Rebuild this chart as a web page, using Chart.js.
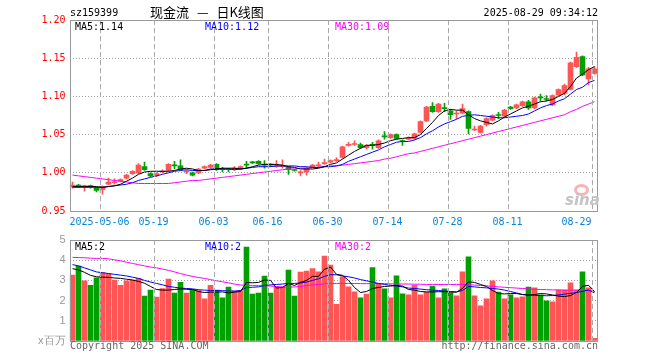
<!DOCTYPE html>
<html>
<head>
<meta charset="utf-8">
<script src="https://cdn.jsdelivr.net/npm/chart.js@4/dist/chart.umd.min.js"></script>
<style>
  body { margin: 0; background: #fff; }
  #wrap { position: relative; width: 660px; height: 360px; overflow: hidden; background: #fff; }
  canvas { position: absolute; left: 0; }
  .t { position: absolute; font: 10px "DejaVu Sans Mono", monospace; line-height: 12px; white-space: pre; }
</style>
</head>
<body>
<div id="wrap">
  <canvas id="kline" width="660" height="235" style="top:0px"></canvas>
  <canvas id="vol" width="660" height="140" style="top:220px"></canvas>

  <div class="t" style="left:70px;top:7px">sz159399</div>
  <div class="t" style="left:150px;top:4px;font:13px 'Noto Sans CJK SC',sans-serif;line-height:16px;word-spacing:5px">现金流 — 日K线图</div>
  <div class="t" style="right:62px;top:7px">2025-08-29 09:34:12</div>

  <div class="t" id="lg5" style="left:75px;top:21px;color:#000"></div>
  <div class="t" id="lg10" style="left:205px;top:21px;color:#0000ff"></div>
  <div class="t" id="lg30" style="left:335px;top:21px;color:#ff00ff"></div>

  <div style="position:absolute;left:574px;top:184px;width:9px;height:6px;border:3px solid #f6b4b4;border-radius:50%"></div>
  <div class="t" style="left:565px;top:192px;font:italic bold 15px 'DejaVu Sans',sans-serif;line-height:16px;color:#c4c4c4">sina</div>

  <div class="t" id="vlg5" style="left:75px;top:241px;color:#000"></div>
  <div class="t" id="vlg10" style="left:205px;top:241px;color:#0000ff"></div>
  <div class="t" id="vlg30" style="left:335px;top:241px;color:#ff00ff"></div>

  <div class="t" style="left:70px;top:340px;color:#666">Copyright 2025 SINA.COM</div>
  <div class="t" style="right:62px;top:340px;color:#666">http://finance.sina.com.cn</div>
</div>

<script>
// trading days shown (Apr 24 -> Aug 29, 2025)
const dates = [
  '04-24','04-25','04-28','04-29','04-30',
  '05-06','05-07','05-08','05-09','05-12','05-13','05-14','05-15','05-16',
  '05-19','05-20','05-21','05-22','05-23','05-26','05-27','05-28','05-29','05-30',
  '06-03','06-04','06-05','06-06','06-09','06-10','06-11','06-12','06-13',
  '06-16','06-17','06-18','06-19','06-20','06-23','06-24','06-25','06-26','06-27','06-30',
  '07-01','07-02','07-03','07-04','07-07','07-08','07-09','07-10','07-11',
  '07-14','07-15','07-16','07-17','07-18','07-21','07-22','07-23','07-24','07-25',
  '07-28','07-29','07-30','07-31','08-01','08-04','08-05','08-06','08-07','08-08',
  '08-11','08-12','08-13','08-14','08-15','08-18','08-19','08-20','08-21','08-22',
  '08-25','08-26','08-27','08-28','08-29'
];
const tickDates = ['05-06','05-19','06-03','06-16','06-30','07-14','07-28','08-11','08-29'];
const tickYear = '2025';

const open = [
  0.982,0.984,0.982,0.983,0.980,0.978,0.985,0.987,0.989,0.993,
  0.999,1.000,1.008,0.999,0.997,1.001,1.003,1.010,1.009,1.001,
  1.000,1.000,1.006,1.007,1.011,1.005,1.005,1.005,1.005,1.011,
  1.014,1.015,1.011,1.011,1.008,1.008,1.007,1.004,1.000,1.001,
  1.008,1.009,1.012,1.014,1.016,1.020,1.036,1.037,1.037,1.033,
  1.037,1.033,1.048,1.046,1.050,1.042,1.044,1.045,1.053,1.068,
  1.087,1.080,1.085,1.081,1.077,1.078,1.080,1.056,1.053,1.063,
  1.069,1.076,1.074,1.086,1.085,1.088,1.093,1.085,1.099,1.097,
  1.089,1.102,1.104,1.109,1.139,1.152,1.123,1.130
];
const close = [
  0.984,0.982,0.983,0.982,0.977,0.982,0.988,0.988,0.991,0.997,
  1.002,1.010,1.004,0.996,0.999,1.002,1.011,1.009,1.004,1.002,
  0.997,1.005,1.008,1.010,1.004,1.004,1.004,1.006,1.008,1.010,
  1.013,1.012,1.010,1.010,1.009,1.009,1.004,1.003,1.001,1.006,
  1.010,1.010,1.013,1.016,1.017,1.034,1.037,1.038,1.033,1.036,
  1.036,1.042,1.047,1.050,1.045,1.041,1.045,1.051,1.067,1.086,
  1.080,1.090,1.084,1.076,1.078,1.084,1.058,1.057,1.061,1.071,
  1.075,1.075,1.082,1.084,1.089,1.093,1.085,1.098,1.098,1.096,
  1.101,1.109,1.114,1.144,1.151,1.128,1.136,1.136
];
const high = [
  0.988,0.985,0.984,0.984,0.981,0.983,0.993,0.992,0.992,0.998,
  1.003,1.012,1.014,1.000,1.000,1.004,1.012,1.015,1.017,1.004,
  1.001,1.006,1.009,1.011,1.012,1.007,1.006,1.008,1.009,1.015,
  1.015,1.016,1.016,1.012,1.016,1.017,1.008,1.005,1.003,1.007,
  1.011,1.014,1.018,1.017,1.020,1.035,1.040,1.042,1.039,1.037,
  1.040,1.043,1.054,1.051,1.051,1.043,1.047,1.052,1.068,1.087,
  1.092,1.091,1.091,1.083,1.081,1.090,1.081,1.061,1.062,1.072,
  1.076,1.079,1.083,1.087,1.090,1.094,1.095,1.099,1.103,1.101,
  1.102,1.110,1.116,1.145,1.158,1.153,1.138,1.139
];
const low = [
  0.980,0.981,0.976,0.980,0.975,0.972,0.984,0.985,0.988,0.992,
  0.998,0.999,1.003,0.995,0.995,1.000,1.002,1.005,1.003,0.999,
  0.996,0.999,1.005,1.006,1.003,1.001,1.001,1.003,1.004,1.006,
  1.012,1.011,1.006,1.008,1.007,1.006,0.998,1.002,0.996,0.997,
  1.007,1.008,1.011,1.013,1.015,1.019,1.035,1.036,1.032,1.031,
  1.031,1.032,1.044,1.045,1.044,1.036,1.043,1.044,1.052,1.067,
  1.079,1.079,1.080,1.070,1.071,1.077,1.051,1.055,1.052,1.061,
  1.068,1.071,1.073,1.083,1.084,1.087,1.083,1.084,1.094,1.094,
  1.088,1.101,1.102,1.108,1.138,1.127,1.115,1.129
];

const ma5 = [
  0.982,0.982,0.982,0.982,0.982,0.981,0.982,0.983,0.985,0.989,
  0.993,0.998,1.001,1.002,1.002,1.002,1.002,1.003,1.005,1.006,
  1.005,1.003,1.003,1.004,1.005,1.006,1.006,1.006,1.005,1.006,
  1.008,1.010,1.011,1.011,1.011,1.010,1.008,1.007,1.005,1.005,
  1.005,1.006,1.008,1.011,1.013,1.018,1.023,1.028,1.032,1.036,
  1.036,1.037,1.039,1.042,1.044,1.045,1.046,1.046,1.050,1.058,
  1.066,1.075,1.081,1.083,1.082,1.082,1.076,1.071,1.068,1.066,
  1.064,1.068,1.073,1.077,1.081,1.085,1.087,1.090,1.093,1.094,
  1.096,1.100,1.104,1.113,1.124,1.129,1.135,1.139
];
const ma10 = [
  0.981,0.981,0.981,0.981,0.981,0.981,0.982,0.983,0.984,0.985,
  0.987,0.990,0.992,0.994,0.996,0.998,1.000,1.002,1.003,1.004,
  1.003,1.003,1.003,1.005,1.005,1.005,1.005,1.004,1.005,1.006,
  1.007,1.008,1.008,1.008,1.009,1.009,1.009,1.009,1.008,1.008,
  1.007,1.007,1.008,1.008,1.009,1.011,1.015,1.018,1.021,1.024,
  1.027,1.030,1.034,1.037,1.040,1.041,1.041,1.043,1.046,1.051,
  1.055,1.060,1.064,1.067,1.070,1.074,1.075,1.076,1.075,1.074,
  1.073,1.072,1.072,1.073,1.074,1.075,1.077,1.081,1.085,1.088,
  1.090,1.094,1.097,1.103,1.109,1.112,1.118,1.121
];
const ma30 = [
  0.997,0.996,0.995,0.994,0.993,0.992,0.991,0.990,0.989,0.988,
  0.987,0.986,0.986,0.986,0.986,0.986,0.986,0.987,0.988,0.989,
  0.990,0.990,0.991,0.992,0.993,0.994,0.995,0.996,0.997,0.998,
  0.999,1.000,1.001,1.002,1.003,1.004,1.005,1.005,1.006,1.006,
  1.007,1.007,1.008,1.009,1.009,1.010,1.011,1.012,1.013,1.014,
  1.015,1.016,1.018,1.019,1.021,1.023,1.025,1.026,1.028,1.030,
  1.032,1.034,1.036,1.038,1.040,1.042,1.044,1.046,1.048,1.050,
  1.052,1.054,1.056,1.058,1.060,1.062,1.064,1.066,1.068,1.070,
  1.072,1.074,1.076,1.080,1.083,1.087,1.090,1.093
];

// volume, millions
const volume = [
  3.26,3.71,2.98,2.76,3.13,3.39,3.34,3.01,2.76,2.98,
  3.01,3.10,2.22,2.52,2.17,2.60,3.06,2.37,2.91,2.37,
  2.55,2.50,2.09,2.76,2.52,2.14,2.67,2.47,2.50,4.65,
  2.32,2.37,3.21,2.37,2.68,2.68,3.51,2.22,3.41,3.46,
  3.58,3.43,4.21,3.76,1.82,3.18,2.68,2.43,2.14,2.32,
  3.63,2.85,2.58,2.14,3.23,2.33,2.28,2.76,2.28,2.42,
  2.72,2.14,2.58,2.38,2.24,3.43,4.17,2.24,1.74,2.09,
  2.98,2.42,2.09,2.28,2.14,2.19,2.67,2.63,2.28,1.99,
  1.94,2.52,2.52,2.88,2.52,3.43,2.63,0.13
];
const volMa5 = [
  3.58,3.52,3.40,3.25,3.18,3.16,3.15,3.12,3.10,3.06,
  3.02,2.95,2.86,2.70,2.55,2.52,2.52,2.55,2.58,2.56,
  2.55,2.45,2.40,2.42,2.42,2.43,2.38,2.42,2.45,2.90,
  2.88,2.90,3.02,3.00,2.62,2.65,2.85,2.75,2.90,3.00,
  3.20,3.20,3.55,3.66,3.30,3.25,3.00,2.65,2.40,2.45,
  2.60,2.65,2.70,2.72,2.75,2.72,2.55,2.52,2.45,2.43,
  2.43,2.44,2.44,2.42,2.42,2.60,2.93,2.90,2.80,2.70,
  2.50,2.35,2.33,2.35,2.35,2.30,2.27,2.30,2.35,2.33,
  2.28,2.22,2.20,2.25,2.40,2.70,2.76,2.45
];
const volMa10 = [
  3.78,3.72,3.62,3.52,3.42,3.38,3.34,3.30,3.26,3.22,
  3.16,3.10,3.00,2.92,2.85,2.78,2.70,2.66,2.62,2.60,
  2.58,2.54,2.52,2.50,2.50,2.49,2.48,2.47,2.50,2.65,
  2.66,2.68,2.75,2.78,2.80,2.82,2.85,2.85,2.87,2.92,
  3.00,3.08,3.20,3.28,3.28,3.22,3.18,3.12,3.04,2.98,
  2.92,2.85,2.80,2.76,2.72,2.68,2.62,2.60,2.57,2.54,
  2.52,2.50,2.47,2.45,2.43,2.50,2.70,2.68,2.65,2.63,
  2.60,2.57,2.52,2.45,2.38,2.30,2.28,2.26,2.25,2.24,
  2.25,2.28,2.32,2.36,2.40,2.46,2.52,2.38
];
const volMa30 = [
  4.14,4.13,4.12,4.10,4.09,4.09,4.07,4.02,3.97,3.90,
  3.84,3.78,3.72,3.66,3.62,3.56,3.50,3.42,3.34,3.26,
  3.20,3.14,3.10,3.04,2.98,2.93,2.88,2.82,2.77,2.76,
  2.75,2.74,2.73,2.72,2.70,2.67,2.66,2.68,2.70,2.74,
  2.78,2.80,2.83,2.85,2.85,2.85,2.85,2.85,2.84,2.84,
  2.84,2.84,2.84,2.83,2.82,2.82,2.82,2.81,2.81,2.80,
  2.80,2.80,2.80,2.80,2.80,2.80,2.79,2.77,2.75,2.73,
  2.70,2.68,2.66,2.64,2.62,2.60,2.58,2.56,2.55,2.54,
  2.53,2.53,2.52,2.52,2.52,2.52,2.52,2.45
];

const upColor = '#ff5555';
const downColor = '#00a000';
const barColors = close.map((c, i) => c >= open[i] ? upColor : downColor);
const last = a => a[a.length - 1];

document.getElementById('lg5').textContent = 'MA5:' + last(ma5).toFixed(2);
document.getElementById('lg10').textContent = 'MA10:' + last(ma10).toFixed(2);
document.getElementById('lg30').textContent = 'MA30:' + last(ma30).toFixed(2);
document.getElementById('vlg5').textContent = 'MA5:' + last(volMa5).toFixed(0);
document.getElementById('vlg10').textContent = 'MA10:' + last(volMa10).toFixed(0);
document.getElementById('vlg30').textContent = 'MA30:' + last(volMa30).toFixed(0);

const mono = { family: 'DejaVu Sans Mono', size: 10 };
const tickIdx = tickDates.map(d => dates.indexOf(d));

function xLabel(i) {
  const k = tickIdx.indexOf(i);
  if (k < 0) return '';
  if (k === 0) return tickYear + '-' + dates[i];
  if (i === dates.length - 1) return dates[i] + '     '; // keep last label inside
  return dates[i];
}

// box round the plot area, dashed date lines at the left edge of labelled days
const frame = {
  id: 'frame',
  afterDraw(chart) {
    const a = chart.chartArea, ctx = chart.ctx, xs = chart.scales.x;
    const step = xs.getPixelForValue(1) - xs.getPixelForValue(0);
    ctx.save();
    ctx.lineWidth = 1;
    ctx.strokeStyle = '#aaaaaa';
    ctx.setLineDash([5, 3]);
    ctx.beginPath();
    tickIdx.forEach(i => {
      const px = Math.round(xs.getPixelForValue(i) - step / 2) + 0.5;
      ctx.moveTo(px, a.top);
      ctx.lineTo(px, a.bottom);
    });
    ctx.stroke();
    ctx.setLineDash([]);
    const l = Math.ceil(a.left), r = Math.floor(a.right);
    const t = Math.round(a.top), b = Math.round(a.bottom);
    ctx.strokeStyle = '#999';
    ctx.strokeRect(l + 0.5, t + 0.5, r - l, b - t);
    ctx.restore();
  }
};

function lineSet(data, color) {
  return { type: 'line', data: data, borderColor: color, borderWidth: 1,
           pointRadius: 0, tension: 0, fill: false, order: 0 };
}

function xScale(showTicks, h) {
  return {
    offset: true,
    grid: { display: false, drawTicks: false },
    border: { display: false },
    ticks: {
      display: showTicks, autoSkip: false, maxRotation: 0, minRotation: 0,
      padding: 5, labelOffset: -3, color: '#0a84d6', font: mono,
      callback: (v, i) => xLabel(i)
    },
    afterFit: s => { s.height = h; }
  };
}

// price chart
new Chart(document.getElementById('kline'), {
  type: 'bar',
  data: {
    labels: dates,
    datasets: [
      lineSet(ma5, '#000000'),
      lineSet(ma10, '#0000ff'),
      lineSet(ma30, '#ff00ff'),
      { data: dates.map((d, i) => [low[i], high[i]]), backgroundColor: barColors,
        barThickness: 1, grouped: false, borderWidth: 0, order: 2 },
      { data: dates.map((d, i) => [open[i], close[i]]), backgroundColor: barColors,
        barThickness: 5, minBarLength: 1, grouped: false, borderWidth: 0, order: 1 }
    ]
  },
  options: {
    responsive: false,
    animation: false,
    layout: { padding: { left: 0, right: 62.5, top: 20, bottom: 0 } },
    plugins: { legend: { display: false }, tooltip: { enabled: false } },
    scales: {
      x: xScale(true, 24),
      y: {
        min: 0.95, max: 1.20,
        ticks: { stepSize: 0.05, color: '#ff0000', padding: 4, font: mono,
                 callback: v => v.toFixed(2) },
        grid: { drawTicks: false,
                color: ctx => (ctx.tick && ctx.tick.value > 0.951 && ctx.tick.value < 1.199) ? '#a0a0a0' : 'rgba(0,0,0,0)' },
        border: { display: false, dash: [1, 2] },
        afterFit: s => { s.width = 69.5; }
      }
    }
  },
  plugins: [frame]
});

// volume chart
new Chart(document.getElementById('vol'), {
  type: 'bar',
  data: {
    labels: dates,
    datasets: [
      lineSet(volMa5, '#000000'),
      lineSet(volMa10, '#0000ff'),
      lineSet(volMa30, '#ff00ff'),
      { data: volume, backgroundColor: barColors, barThickness: 5, borderWidth: 0, order: 1 }
    ]
  },
  options: {
    responsive: false,
    animation: false,
    layout: { padding: { left: 0, right: 62.5, top: 20, bottom: 0 } },
    plugins: { legend: { display: false }, tooltip: { enabled: false } },
    scales: {
      x: xScale(false, 19),
      y: {
        min: 0, max: 5,
        ticks: { stepSize: 1, color: '#999', padding: 4,
                 font: { family: 'Liberation Sans', size: 11 },
                 callback: v => v === 0 ? 'x百万' : String(v) },
        grid: { drawTicks: false,
                color: ctx => (ctx.tick && ctx.tick.value > 0 && ctx.tick.value < 5) ? '#a0a0a0' : 'rgba(0,0,0,0)' },
        border: { display: false, dash: [1, 2] },
        afterFit: s => { s.width = 69.5; }
      }
    }
  },
  plugins: [frame]
});
</script>
</body>
</html>
